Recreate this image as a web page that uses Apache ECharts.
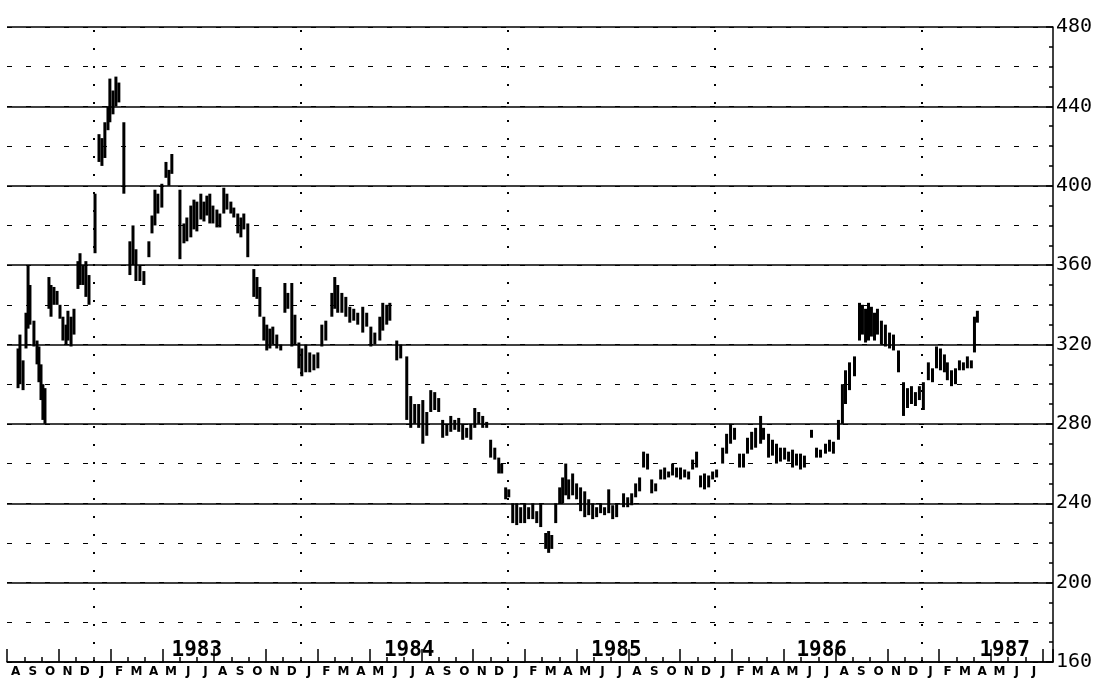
<!DOCTYPE html>
<html>
<head>
<meta charset="utf-8">
<script src="https://cdn.jsdelivr.net/npm/echarts@6/dist/echarts.min.js"></script>
<style>
  html, body { margin: 0; padding: 0; background: #fff; }
  #main { width: 1107px; height: 680px; }
</style>
</head>
<body>
<div id="main"></div>
<script>
// x values are months counted from 1 Aug 1982
var monthLetters = ['A', 'S', 'O', 'N', 'D',
  'J', 'F', 'M', 'A', 'M', 'J', 'J', 'A', 'S', 'O', 'N', 'D',
  'J', 'F', 'M', 'A', 'M', 'J', 'J', 'A', 'S', 'O', 'N', 'D',
  'J', 'F', 'M', 'A', 'M', 'J', 'J', 'A', 'S', 'O', 'N', 'D',
  'J', 'F', 'M', 'A', 'M', 'J', 'J', 'A', 'S', 'O', 'N', 'D',
  'J', 'F', 'M', 'A', 'M', 'J', 'J']
var yearNames = ['1983', '1984', '1985', '1986', '1987']
var yearLabelPos = [11, 23.3, 35.3, 47.2, 57.8]
var yearStarts = [5, 17, 29, 41, 53]

var barT = [0.64, 0.75, 0.93, 1.10, 1.22, 1.33, 1.56, 1.74, 1.85, 1.97, 2.08, 2.20, 2.43, 2.55, 2.72, 2.90, 3.07, 3.24, 3.42, 3.53,
  3.71, 3.88, 4.11, 4.23, 4.40, 4.57, 4.75, 5.10, 5.33, 5.50, 5.67, 5.85, 5.96, 6.14, 6.31, 6.48, 6.77, 7.12, 7.30, 7.47,
  7.70, 7.93, 8.22, 8.40, 8.57, 8.74, 8.97, 9.21, 9.38, 9.55, 10.02, 10.25, 10.42, 10.65, 10.83, 11.00, 11.23, 11.41, 11.58, 11.75,
  11.93, 12.16, 12.33, 12.56, 12.74, 12.97, 13.14, 13.37, 13.55, 13.72, 13.95, 14.30, 14.48, 14.65, 14.88, 15.05, 15.23, 15.40, 15.63, 15.86,
  16.10, 16.27, 16.50, 16.68, 16.91, 17.08, 17.31, 17.54, 17.78, 18.01, 18.24, 18.47, 18.82, 18.99, 19.16, 19.40, 19.63, 19.86, 20.09, 20.32,
  20.61, 20.84, 21.08, 21.31, 21.60, 21.77, 22.00, 22.18, 22.58, 22.81, 23.16, 23.39, 23.62, 23.85, 24.09, 24.32, 24.55, 24.78, 25.01, 25.24,
  25.48, 25.71, 25.94, 26.17, 26.40, 26.63, 26.87, 27.10, 27.33, 27.56, 27.79, 28.02, 28.26, 28.49, 28.66, 28.89, 29.07, 29.30, 29.53, 29.76,
  29.99, 30.22, 30.46, 30.69, 30.92, 31.21, 31.38, 31.56, 31.79, 32.02, 32.19, 32.37, 32.54, 32.77, 33.00, 33.23, 33.47, 33.70, 33.93, 34.16,
  34.39, 34.62, 34.86, 35.09, 35.32, 35.72, 35.96, 36.19, 36.42, 36.65, 36.88, 37.11, 37.35, 37.58, 37.87, 38.10, 38.33, 38.56, 38.79, 39.02,
  39.26, 39.49, 39.72, 39.95, 40.18, 40.41, 40.65, 40.88, 41.11, 41.46, 41.69, 41.92, 42.15, 42.44, 42.67, 42.90, 43.14, 43.37, 43.66, 43.83,
  44.12, 44.35, 44.58, 44.81, 45.05, 45.28, 45.51, 45.74, 45.97, 46.20, 46.61, 46.90, 47.13, 47.42, 47.65, 47.88, 48.17, 48.40, 48.58, 48.81,
  49.10, 49.39, 49.56, 49.74, 49.91, 50.08, 50.26, 50.43, 50.66, 50.89, 51.13, 51.36, 51.65, 51.94, 52.17, 52.40, 52.63, 52.86, 53.09, 53.38,
  53.62, 53.85, 54.08, 54.31, 54.48, 54.72, 54.95, 55.18, 55.41, 55.64, 55.87, 56.05, 56.22]

var barHigh = [318, 325, 312, 336, 360, 350, 332, 322, 319, 310, 300, 298, 354, 350, 349, 347, 340, 334, 330, 337,
  334, 338, 362, 366, 360, 362, 355, 396, 426, 424, 432, 440, 454, 448, 455, 452, 432, 372, 380, 368,
  360, 357, 372, 385, 398, 396, 401, 412, 408, 416, 398, 381, 384, 390, 393, 392, 396, 392, 395, 396,
  390, 388, 386, 399, 396, 392, 389, 386, 384, 386, 381, 358, 354, 349, 334, 330, 328, 329, 325, 320,
  351, 346, 351, 335, 321, 318, 320, 316, 315, 316, 330, 332, 346, 354, 350, 346, 344, 339, 338, 336,
  339, 336, 329, 326, 334, 341, 340, 341, 322, 320, 314, 294, 290, 290, 292, 286, 297, 296, 293, 282,
  280, 284, 282, 283, 280, 278, 280, 288, 286, 284, 281, 272, 268, 263, 260, 248, 247, 240, 240, 238,
  240, 238, 240, 236, 240, 225, 226, 224, 240, 248, 253, 260, 252, 255, 250, 248, 246, 242, 240, 238,
  240, 238, 247, 239, 240, 245, 243, 245, 250, 253, 266, 265, 252, 250, 257, 258, 256, 260, 258, 258,
  257, 256, 262, 266, 254, 255, 254, 256, 257, 268, 275, 280, 278, 265, 265, 273, 276, 278, 284, 278,
  275, 272, 270, 268, 268, 266, 267, 265, 265, 264, 277, 268, 267, 270, 272, 271, 282, 300, 307, 311,
  314, 341, 340, 338, 341, 339, 336, 338, 332, 330, 326, 325, 317, 301, 298, 299, 296, 299, 301, 311,
  308, 319, 318, 315, 311, 307, 308, 312, 311, 314, 312, 334, 337]

var barLow = [298, 300, 297, 318, 328, 330, 319, 310, 301, 292, 282, 280, 338, 334, 340, 340, 333, 322, 320, 322,
  319, 325, 348, 350, 350, 344, 340, 366, 412, 410, 414, 428, 432, 436, 440, 442, 396, 355, 360, 352,
  352, 350, 364, 376, 380, 386, 389, 404, 400, 406, 363, 371, 372, 374, 378, 377, 383, 382, 385, 381,
  381, 379, 379, 386, 388, 386, 384, 376, 374, 378, 364, 344, 343, 334, 322, 317, 318, 320, 318, 317,
  336, 338, 319, 320, 308, 304, 306, 306, 307, 308, 319, 322, 334, 338, 336, 336, 334, 331, 332, 330,
  326, 329, 319, 320, 322, 327, 330, 332, 312, 313, 282, 278, 280, 278, 270, 274, 286, 287, 286, 273,
  274, 276, 277, 276, 272, 273, 272, 278, 280, 278, 278, 263, 262, 255, 255, 242, 243, 230, 229, 230,
  230, 232, 232, 230, 228, 217, 215, 217, 230, 240, 240, 244, 242, 244, 242, 236, 233, 234, 232, 233,
  235, 234, 235, 232, 233, 238, 238, 239, 243, 246, 258, 257, 245, 246, 252, 252, 253, 254, 253, 252,
  253, 252, 257, 258, 248, 247, 248, 252, 253, 260, 265, 270, 272, 258, 258, 265, 267, 268, 270, 272,
  263, 264, 260, 261, 262, 261, 258, 259, 257, 258, 273, 263, 263, 265, 266, 265, 272, 280, 290, 297,
  304, 322, 325, 321, 322, 324, 322, 325, 320, 319, 318, 317, 306, 284, 288, 290, 289, 292, 287, 302,
  301, 308, 307, 306, 302, 299, 300, 307, 307, 308, 308, 316, 331]

var bars = barT.map(function (t, i) { return [t, barHigh[i], barLow[i]] })
var monthLabelPos = monthLetters.map(function (m, i) { return i + 0.5 })

function hiddenX (extra) {
  var ax = {
    type: 'value',
    min: 0,
    max: 60.6,
    position: 'bottom',
    axisLine: { show: false, onZero: false },
    axisTick: { show: false },
    axisLabel: { show: false },
    splitLine: { show: false }
  }
  return Object.assign(ax, extra)
}

var chart = echarts.init(document.getElementById('main'))
var option = {
  backgroundColor: '#fff',
  animation: false,
  grid: { left: 7, right: 54, top: 27, bottom: 18 },
  xAxis: [
    // month ticks and the bottom line
    hiddenX({
      interval: 1,
      axisLine: { show: true, onZero: false, lineStyle: { color: '#000', width: 1.5 } },
      axisTick: { show: true, length: -5, lineStyle: { color: '#000', width: 1.5 } }
    }),
    // longer ticks
    hiddenX({
      interval: 3,
      axisTick: { show: true, length: -13, lineStyle: { color: '#000', width: 1.5 } }
    }),
    // year labels above the line
    hiddenX({
      axisLabel: {
        show: true,
        inside: true,
        margin: 1,
        customValues: yearLabelPos,
        formatter: function (v) { return yearNames[yearLabelPos.indexOf(v)] },
        color: '#000',
        fontFamily: 'DejaVu Sans Mono',
        fontWeight: 'bold',
        fontSize: 21
      }
    }),
    // month letters under the line
    hiddenX({
      axisLabel: {
        show: true,
        margin: 4,
        customValues: monthLabelPos,
        formatter: function (v) { return monthLetters[Math.floor(v)] },
        color: '#000',
        fontFamily: 'DejaVu Sans',
        fontWeight: 'bold',
        fontSize: 12
      }
    })
  ],
  yAxis: [
    {
      type: 'value',
      position: 'right',
      min: 160,
      max: 480,
      interval: 40,
      axisLine: { show: true, onZero: false, lineStyle: { color: '#000', width: 1.5 } },
      axisTick: { show: true, length: -7, lineStyle: { color: '#000', width: 1.5 } },
      axisLabel: { color: '#000', fontFamily: 'DejaVu Sans Mono', fontSize: 20, margin: 3 },
      splitLine: { show: true, lineStyle: { color: '#000', width: 1.5 } }
    },
    {
      type: 'value',
      position: 'right',
      min: 160,
      max: 480,
      interval: 10,
      axisLine: { show: false, onZero: false },
      axisTick: { show: true, length: -4, lineStyle: { color: '#000', width: 1.5 } },
      axisLabel: { show: false },
      splitLine: { show: false }
    },
    {
      type: 'value',
      position: 'left',
      min: 160,
      max: 480,
      interval: 20,
      axisLine: { show: false, onZero: false },
      axisTick: { show: false },
      axisLabel: { show: false },
      splitLine: { show: true, lineStyle: { color: '#000', width: 1, type: [5, 14] } }
    }
  ],
  series: [
    {
      type: 'custom',
      xAxisIndex: 0,
      yAxisIndex: 0,
      data: bars,
      encode: { x: 0, y: [1, 2] },
      renderItem: function (params, api) {
        var top = api.coord([api.value(0), api.value(1)])
        var bot = api.coord([api.value(0), api.value(2)])
        return {
          type: 'line',
          shape: { x1: top[0], y1: top[1], x2: bot[0], y2: bot[1] },
          style: { stroke: '#000', lineWidth: 3 }
        }
      },
      markLine: {
        silent: true,
        symbol: 'none',
        label: { show: false },
        lineStyle: { color: '#000', width: 2, type: [2, 16] },
        data: yearStarts.map(function (m) { return { xAxis: m } })
      }
    }
  ]
}
chart.setOption(option)
</script>
</body>
</html>
